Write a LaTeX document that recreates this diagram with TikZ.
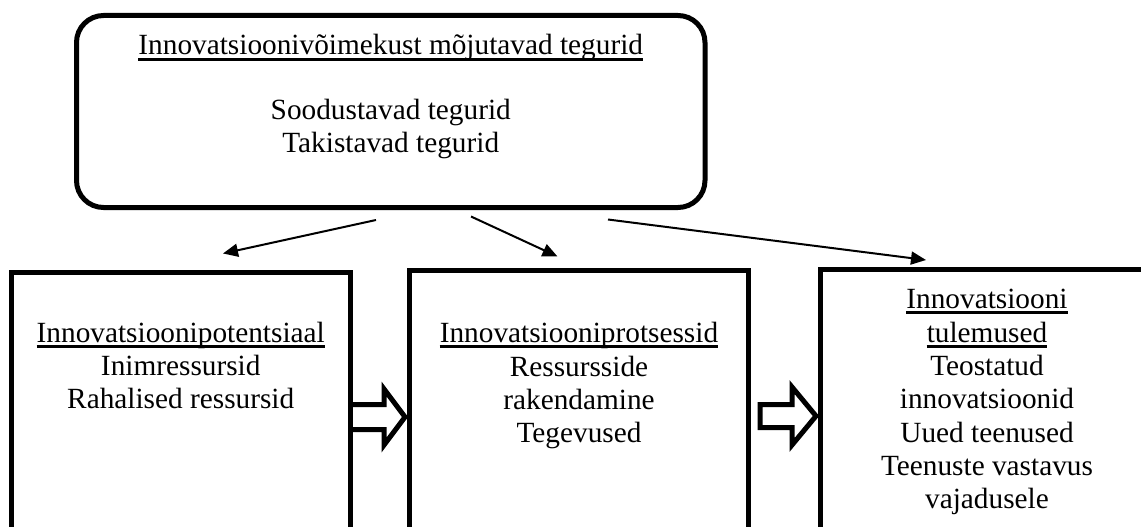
\documentclass[tikz,border=0pt]{standalone}
\usepackage{fontspec}
\setmainfont{Liberation Serif}
\usetikzlibrary{arrows.meta}
\begin{document}
\begin{tikzpicture}[x=1pt,y=-1pt,
  txt/.style={inner sep=0pt, anchor=base, font=\fontsize{29.3}{33}\selectfont},
  box/.style={draw, line width=5pt, outer sep=0pt, inner sep=0pt, anchor=north west},
  thinarrow/.style={line width=2pt, -{Triangle[length=15pt,width=13pt]}},
  blockarr/.style={draw, line width=5pt, miter limit=10},
  ul/.style={line width=2.2pt}
]
\useasboundingbox (0,0) rectangle (1141,527);

% boxes
\node[box, rounded corners=27pt, minimum width=628.5pt, minimum height=192pt] (top) at (76.5,15.5) {};
\node[box, minimum width=338.5pt, minimum height=300pt] (b1) at (11.5,272) {};
\node[box, minimum width=339pt, minimum height=300pt] (b2) at (409.5,270.5) {};
\node[box, minimum width=340pt, minimum height=300pt] (b3) at (820.5,269.5) {};

% top box text
\node[txt] (t0) at (390.75,55) {Innovatsioonivõimekust mõjutavad tegurid};
\node[txt] (t1) at (390.75,119) {Soodustavad tegurid};
\node[txt] (t2) at (390.75,152) {Takistavad tegurid};
\draw[ul] ([yshift=-4.5pt]t0.base west) -- ([yshift=-4.5pt]t0.base east);

% box 1 text
\node[txt] (p0) at (180.75,342) {Innovatsioonipotentsiaal};
\node[txt] (p1) at (180.75,375) {Inimressursid};
\node[txt] (p2) at (180.75,408) {Rahalised ressursid};
\draw[ul] ([yshift=-4.5pt]p0.base west) -- ([yshift=-4.5pt]p0.base east);

% box 2 text
\node[txt] (q0) at (579,342) {Innovatsiooniprotsessid};
\node[txt] (q1) at (579,376) {Ressursside};
\node[txt] (q2) at (579,409) {rakendamine};
\node[txt] (q3) at (579,442) {Tegevused};
\draw[ul] ([yshift=-4.5pt]q0.base west) -- ([yshift=-4.5pt]q0.base east);

% box 3 text
\node[txt] (r0) at (987,308) {Innovatsiooni};
\node[txt] (r1) at (987,342) {tulemused};
\node[txt] (r2) at (987,375) {Teostatud};
\node[txt] (r3) at (987,408) {innovatsioonid};
\node[txt] (r4) at (987,442) {Uued teenused};
\node[txt] (r5) at (987,475) {Teenuste vastavus};
\node[txt] (r6) at (987,508) {vajadusele};
\draw[ul] ([yshift=-4.5pt]r0.base west) -- ([yshift=-4.5pt]r0.base east);
\draw[ul] ([yshift=-4.5pt]r1.base west) -- ([yshift=-4.5pt]r1.base east);

% thin arrows
\coordinate (a1s) at (376,220);
\coordinate (a1e) at (223,253.5);
\coordinate (a2s) at (471,216.5);
\coordinate (a2e) at (557.5,256.5);
\coordinate (a3s) at (608,219.5);
\coordinate (a3e) at (926,260);
\draw[thinarrow] (a1s) -- (a1e);
\draw[thinarrow] (a2s) -- (a2e);
\draw[thinarrow] (a3s) -- (a3e);

% block arrows
\draw[blockarr] (350,404.5) -- (384,404.5) -- (384,389) -- (405,417) -- (384,445) -- (384,429.5) -- (350,429.5);
\draw[blockarr] (760,404.5) -- (792,404.5) -- (792,387) -- (816,416) -- (792,445) -- (792,427.5) -- (760,427.5) -- cycle;
\end{tikzpicture}
\end{document}
